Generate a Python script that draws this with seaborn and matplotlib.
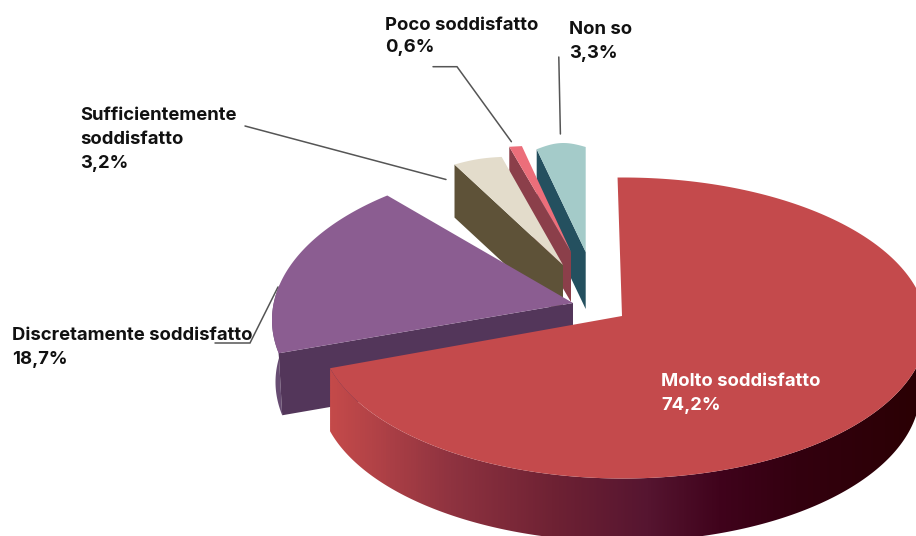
import numpy as np
import pandas as pd
import seaborn as sns
import matplotlib
matplotlib.use("Agg")
import matplotlib.pyplot as plt
from matplotlib.colors import LinearSegmentedColormap
from matplotlib.patches import Polygon

# Survey answers and their shares in percent
answers = ["Non so", "Poco soddisfatto", "Sufficientemente soddisfatto",
           "Discretamente soddisfatto", "Molto soddisfatto"]
shares = [3.3, 0.6, 3.2, 18.7, 74.2]
label_lines = [["Non so", "3,3%"],
               ["Poco soddisfatto", "0,6%"],
               ["Sufficientemente", "soddisfatto", "3,2%"],
               ["Discretamente soddisfatto", "18,7%"],
               ["Molto soddisfatto", "74,2%"]]

top_colors = ["#a4cbc9", "#ec6e7a", "#e3dccb", "#8b5d91", "#c44a4c"]
wall_colors = ["#24505f", "#8b3f4a", "#5e5238", "#53365a", "#c44a4c"]
curve_wall_color = "#674c72"
gradient_stops = ["#c44a4a", "#b84548", "#8f3340", "#6f2234", "#561530",
                  "#40031c", "#33000f", "#2a0003"]
gradient_pos = [0.0, 0.05, 0.2, 0.37, 0.53, 0.65, 0.78, 1.0]

# Perspective view of each exploded slice, in pixels: ellipse centre and radii,
# apex, angle where the slice ends, extrusion depth and lean, rim bulge,
# angular foreshortening
views = pd.DataFrame({
    "answer": answers,
    "cx": [585.7, 571, 563, 572, 623],
    "cy": [252, 252, 265, 320, 328],
    "rx": [238, 340, 250, 300, 304],
    "ry": [105, 107, 111.5, 158, 150.5],
    "ax": [585.7, 571, 563, 573, 622],
    "ay": [252, 252, 265, 303, 316],
    "end": [0.0, -8.3, -14.2, 322.0, 254.5],
    "depth": [57, 50, 53, 62, 63],
    "lean": [0, 0, 0, 3.5, 0],
    "bulge": [4.5, 0, 1.0, 0, 0],
    "squeeze": [1, 1, 1, 0.953, 0.9566],
})
views["share"] = shares
views["sweep"] = views["share"] * 3.6 * views["squeeze"]

sns.set_theme(style="white")
plt.rcParams["font.family"] = ["Inter", "Open Sans", "DejaVu Sans"]

fig = plt.figure(figsize=(9.16, 5.36), dpi=100, facecolor="white")
ax = fig.add_axes([0, 0, 1, 1])


def rim(v, start, stop, n=240):
    phi = np.linspace(start, stop, n)
    t = np.linspace(0, 1, n)
    x = v.cx + v.rx * np.sin(np.radians(phi))
    y = v.cy - v.ry * np.cos(np.radians(phi)) - v.bulge * np.sin(np.pi * t)
    return x, y, phi


z = 5
# Leader lines sit behind the slices
leaders = [([558.8, 560.4], [57, 134]),
           ([433, 457, 511.4], [66.7, 66.7, 141.7]),
           ([245, 446], [126, 179.5]),
           ([215, 250, 278], [343, 343, 287])]
for lx, ly in leaders:
    ax.plot(lx, ly, color="#555555", lw=1.1, zorder=1, solid_joinstyle="miter")

for i, v in enumerate(views.itertuples()):
    is_main = v.answer == "Molto soddisfatto"
    start = v.end - v.sweep
    x, y, phi = rim(v, start, v.end)

    if is_main:
        # Curved outer wall, shaded from left to right
        wx, wy, wphi = rim(v, 93, v.end)
        dx = -7 * np.clip(np.sin(np.radians(wphi)), 0, None)
        poly = np.r_[np.c_[wx, wy], np.c_[wx + dx, wy + v.depth][::-1]]
        cmap = LinearSegmentedColormap.from_list("wall", list(zip(gradient_pos, gradient_stops)))
        im = ax.imshow(np.linspace(0, 1, 600)[None, :], extent=(329, 930, 540, 300),
                       cmap=cmap, aspect="auto", zorder=z)
        im.set_clip_path(Polygon(poly, closed=True, transform=ax.transData))
        z += 1
    else:
        if v.answer.startswith("Discretamente"):
            # Short stretch of curved wall on the left of the purple slice
            wx, wy, _ = rim(v, start, start + 25, 60)
            ax.add_patch(Polygon(np.r_[np.c_[wx, wy], np.c_[wx + v.lean, wy + v.depth][::-1]],
                                 closed=True, fc=curve_wall_color, ec="none", zorder=z))
            z += 1
        wall = [(x[0], y[0]), (v.ax, v.ay), (v.ax, v.ay + v.depth),
                (x[0] + v.lean, y[0] + v.depth)]
        ax.add_patch(Polygon(wall, closed=True, fc=wall_colors[i], ec="none", zorder=z))
        z += 1

    ax.add_patch(Polygon(np.r_[[(v.ax, v.ay)], np.c_[x, y]], closed=True,
                         fc=top_colors[i], ec="none", zorder=z))
    z += 1

# Category labels with their percentages
label_pos = [(569, [30, 54]), (385, [25, 48]), (80, [115, 139, 163]),
             (12, [335, 359]), (661, [382, 406])]
label_col = ["#111111", "#111111", "#111111", "#111111", "#ffffff"]
for lines, (lx, lys), col in zip(label_lines, label_pos, label_col):
    for s, ly in zip(lines, lys):
        ax.text(lx, ly, s, color=col, fontsize=13.3, fontweight="bold",
                ha="left", va="center", zorder=40)

ax.set_xlim(0, 916)
ax.set_ylim(536, 0)
ax.set_axis_off()
sns.despine(ax=ax, left=True, bottom=True)
fig.savefig("out.png", dpi=100, facecolor="white")
